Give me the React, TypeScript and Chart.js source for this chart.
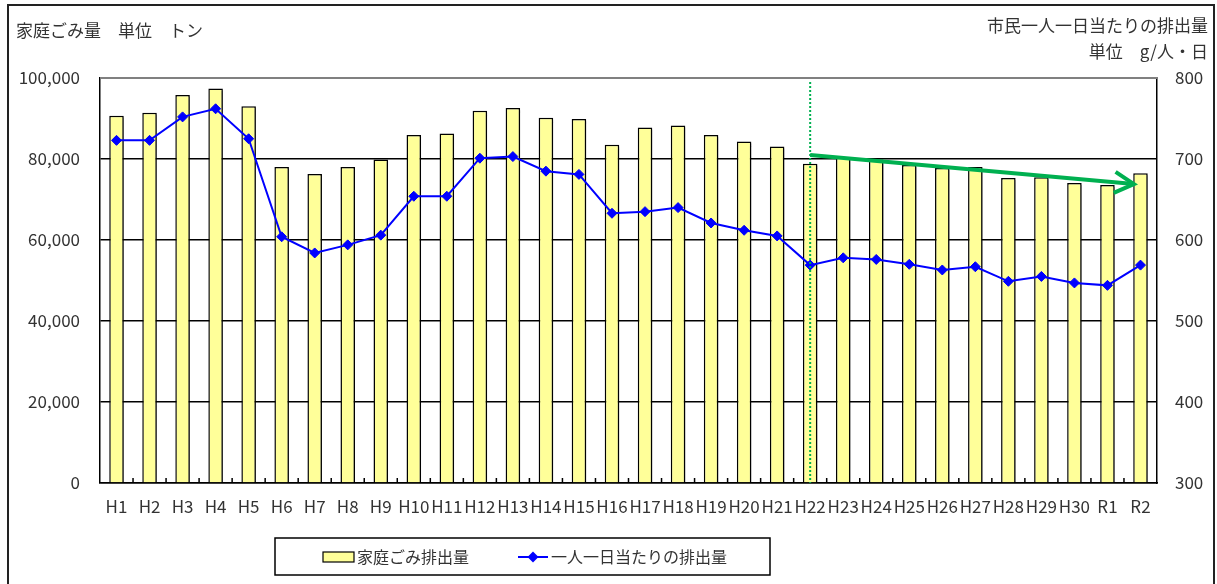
import { useEffect, useRef } from "react";
import { Chart, registerables } from "chart.js";

Chart.register(...registerables);

const categories = [
  "H1", "H2", "H3", "H4", "H5", "H6", "H7", "H8", "H9", "H10",
  "H11", "H12", "H13", "H14", "H15", "H16", "H17", "H18", "H19", "H20",
  "H21", "H22", "H23", "H24", "H25", "H26", "H27", "H28", "H29", "H30",
  "R1", "R2",
];

// 家庭ごみ排出量 (トン)
const householdWaste = [
  90700, 91400, 95800, 97400, 93000, 78000, 76300, 78000, 79900, 85900,
  86300, 91900, 92600, 90200, 89900, 83500, 87800, 88300, 85900, 84300,
  83100, 78800, 80400, 79900, 78500, 77800, 78000, 75300, 75500, 74100,
  73600, 76500,
];

// 一人一日当たりの排出量 (g/人・日)
const perCapita = [
  723, 723, 752, 762, 725, 604, 584, 594, 606, 654,
  654, 701, 703, 685, 681, 633, 635, 640, 621, 612,
  605, 569, 578, 576, 570, 563, 567, 549, 555, 547,
  544, 569,
];

const seriesLabels = ["家庭ごみ排出量", "一人一日当たりの排出量"];
const leftTitle = "家庭ごみ量　単位　トン";
const rightTitleLines = ["市民一人一日当たりの排出量", "単位　g/人・日"];

const leftAxisRange = [0, 100000, 20000];
const rightAxisRange = [300, 800, 100];

// trend arrow (category index, left-axis value)
const trendStart = [21, 81000];
const trendEnd = [30.8, 73800];
// dotted marker line at category
const markerCategory = "H22";

const FONT = '"Noto Sans CJK JP", "Noto Sans", sans-serif';
const TEXT = "#333333";
const GREEN = "#00B050";

const overlayPlugin = {
  id: "overlay",
  beforeDatasetDraw(chart: any, args: any) {
    if (args.index === 0) {
      const ctx = chart.ctx;
      ctx.save();
      ctx.shadowColor = "rgba(0,0,0,0.35)";
      ctx.shadowOffsetX = 2;
      ctx.shadowOffsetY = 2;
      ctx.shadowBlur = 1;
    }
  },
  afterDatasetDraw(chart: any, args: any) {
    if (args.index === 0) chart.ctx.restore();
  },
  afterDatasetsDraw(chart: any) {
    const ctx = chart.ctx;
    const { left, right, top, bottom } = chart.chartArea;
    const x = chart.scales.x;
    const y = chart.scales.y;
    ctx.save();
    // top border of plot (gray)
    ctx.strokeStyle = "#808080";
    ctx.lineWidth = 2;
    ctx.beginPath();
    ctx.moveTo(left, top);
    ctx.lineTo(right, top);
    ctx.stroke();
    // inner x ticks at category boundaries
    ctx.strokeStyle = "#000";
    ctx.lineWidth = 1.5;
    const n = categories.length;
    for (let i = 1; i < n; i++) {
      const px = (x.getPixelForValue(i - 1) + x.getPixelForValue(i)) / 2;
      ctx.beginPath();
      ctx.moveTo(px, bottom);
      ctx.lineTo(px, bottom - 5);
      ctx.stroke();
    }
    // dotted green vertical line
    const mx = x.getPixelForValue(categories.indexOf(markerCategory));
    ctx.strokeStyle = GREEN;
    ctx.lineWidth = 2;
    ctx.setLineDash([2, 2]);
    ctx.beginPath();
    ctx.moveTo(mx, top + 4);
    ctx.lineTo(mx, bottom);
    ctx.stroke();
    ctx.setLineDash([]);
    // trend arrow
    const xAt = (v: number) => {
      const i0 = Math.floor(v);
      const f = v - i0;
      const p0 = x.getPixelForValue(i0);
      const p1 = x.getPixelForValue(i0 + 1);
      return p0 + (p1 - p0) * f;
    };
    const x0 = xAt(trendStart[0]);
    const y0 = y.getPixelForValue(trendStart[1]);
    const x1 = xAt(trendEnd[0]);
    const y1 = y.getPixelForValue(trendEnd[1]);
    ctx.strokeStyle = GREEN;
    ctx.lineWidth = 4;
    ctx.lineCap = "butt";
    ctx.beginPath();
    ctx.moveTo(x0, y0);
    ctx.lineTo(x1, y1);
    ctx.stroke();
    const ang = Math.atan2(y1 - y0, x1 - x0);
    const L = 22;
    ctx.lineJoin = "miter";
    ctx.beginPath();
    ctx.moveTo(x1 + L * Math.cos(ang + Math.PI - 0.5), y1 + L * Math.sin(ang + Math.PI - 0.5));
    ctx.lineTo(x1, y1);
    ctx.lineTo(x1 + L * Math.cos(ang + Math.PI + 0.5), y1 + L * Math.sin(ang + Math.PI + 0.5));
    ctx.stroke();
    ctx.restore();
  },
  afterDraw(chart: any) {
    const ctx = chart.ctx;
    ctx.save();
    // outer frame
    ctx.strokeStyle = "#222";
    ctx.lineWidth = 2;
    ctx.strokeRect(8, 5, 1206, 620);
    // titles
    ctx.fillStyle = TEXT;
    ctx.font = `17px ${FONT}`;
    ctx.textBaseline = "middle";
    ctx.textAlign = "left";
    ctx.fillText(leftTitle, 16, 31);
    ctx.textAlign = "right";
    ctx.fillText(rightTitleLines[0], 1208, 26);
    ctx.fillText(rightTitleLines[1], 1208, 52);
    // legend
    ctx.strokeStyle = "#000";
    ctx.lineWidth = 1.5;
    ctx.strokeRect(275, 538, 495, 37);
    const ds = chart.data.datasets;
    const cy = 557;
    ctx.fillStyle = ds[0].backgroundColor;
    ctx.fillRect(323, cy - 5, 31, 10);
    ctx.strokeStyle = "#000";
    ctx.lineWidth = 1.2;
    ctx.strokeRect(323, cy - 5, 31, 10);
    ctx.fillStyle = TEXT;
    ctx.font = `16px ${FONT}`;
    ctx.textAlign = "left";
    ctx.fillText(ds[0].label, 357, cy);
    ctx.strokeStyle = ds[1].borderColor;
    ctx.lineWidth = 2;
    ctx.beginPath();
    ctx.moveTo(518, cy);
    ctx.lineTo(548, cy);
    ctx.stroke();
    ctx.fillStyle = ds[1].borderColor;
    ctx.beginPath();
    ctx.moveTo(533, cy - 5.5);
    ctx.lineTo(538.5, cy);
    ctx.lineTo(533, cy + 5.5);
    ctx.lineTo(527.5, cy);
    ctx.closePath();
    ctx.fill();
    ctx.fillStyle = TEXT;
    ctx.fillText(ds[1].label, 551, cy);
    ctx.restore();
  },
};

export default function App() {
  const ref = useRef<HTMLCanvasElement>(null);
  useEffect(() => {
    if (!ref.current) return;
    const chart = new Chart(ref.current, {
      type: "bar",
      data: {
        labels: categories,
        datasets: [
          {
            type: "bar",
            label: seriesLabels[0],
            data: householdWaste,
            backgroundColor: "#FFFF99",
            borderColor: "#000000",
            borderWidth: 1.5,
            barPercentage: 0.44,
            categoryPercentage: 1,
            yAxisID: "y",
            order: 2,
          },
          {
            type: "line",
            label: seriesLabels[1],
            data: perCapita,
            borderColor: "#0000FF",
            backgroundColor: "#0000FF",
            borderWidth: 2,
            pointStyle: "rectRot",
            pointRadius: 5,
            pointBorderWidth: 1,
            pointBackgroundColor: "#0000FF",
            pointBorderColor: "#0000FF",
            yAxisID: "y1",
            order: 1,
          },
        ] as any,
      },
      options: {
        responsive: false,
        animation: false,
        layout: { padding: { left: 0, right: 0, top: 78, bottom: 0 } },
        plugins: { legend: { display: false }, tooltip: { enabled: false } },
        scales: {
          x: {
            grid: { display: false, drawTicks: false },
            border: { color: "#000", width: 1.5 },
            ticks: {
              padding: 13,
              color: TEXT,
              font: { family: FONT, size: 17 },
              autoSkip: false,
              maxRotation: 0,
            },
            afterFit: (s: any) => {
              s.height = 101;
            },
          },
          y: {
            position: "left",
            min: leftAxisRange[0],
            max: leftAxisRange[1],
            ticks: {
              stepSize: leftAxisRange[2],
              padding: 20,
              color: TEXT,
              font: { family: FONT, size: 17 },
              callback: (v: any) => Number(v).toLocaleString("en-US"),
            },
            grid: { color: "#000", lineWidth: 1.5, drawTicks: false },
            border: { color: "#000", width: 1.5 },
            afterFit: (s: any) => {
              s.width = 100;
            },
          },
          y1: {
            position: "right",
            min: rightAxisRange[0],
            max: rightAxisRange[1],
            ticks: {
              stepSize: rightAxisRange[2],
              padding: 18,
              color: TEXT,
              font: { family: FONT, size: 17 },
            },
            grid: { drawOnChartArea: false, drawTicks: false },
            border: { color: "#000", width: 1.5 },
            afterFit: (s: any) => {
              s.width = 60;
            },
          },
        },
      } as any,
      plugins: [overlayPlugin],
    });
    return () => chart.destroy();
  }, []);
  return (
    <div style={{ position: "fixed", left: 0, top: 0, width: 1217, height: 584, background: "#fff" }}>
      <canvas ref={ref} width={1217} height={584} style={{ display: "block" }} />
    </div>
  );
}
